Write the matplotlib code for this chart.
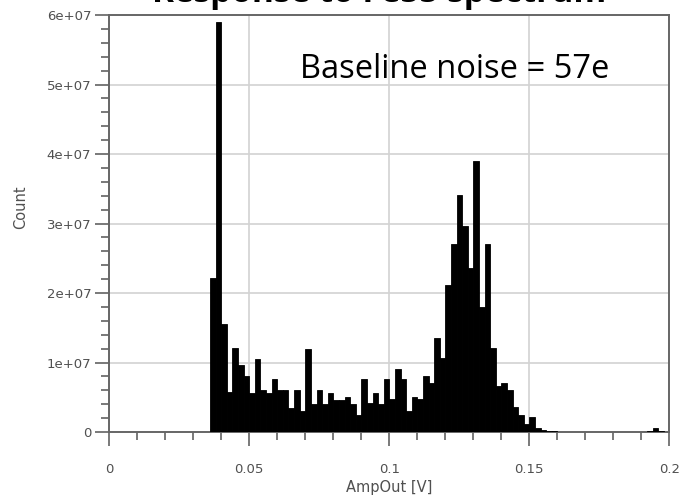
import numpy as np
import matplotlib
matplotlib.use("Agg")
import matplotlib.pyplot as plt
from matplotlib.ticker import MultipleLocator

# histogram bins (left edges in V, width 2 mV) and counts in units of 1e7
bin_width = 0.002
first_edge = 0.036
counts_e7 = [
    2.21, 5.90, 1.56, 0.57, 1.21, 0.96, 0.81, 0.56, 1.05, 0.60,
    0.56, 0.76, 0.61, 0.60, 0.35, 0.60, 0.30, 1.20, 0.41, 0.60,
    0.41, 0.56, 0.46, 0.46, 0.50, 0.40, 0.25, 0.76, 0.42, 0.56,
    0.40, 0.76, 0.48, 0.91, 0.76, 0.31, 0.51, 0.47, 0.80, 0.70,
    1.35, 1.06, 2.11, 2.70, 3.41, 2.96, 2.36, 3.90, 1.80, 2.70,
    1.21, 0.67, 0.70, 0.60, 0.36, 0.24, 0.12, 0.21, 0.06, 0.03,
    0.015, 0.01,
]
# small bump near 0.2 V
bump_edges = [0.192, 0.194, 0.196]
bump_e7 = [0.02, 0.06, 0.02]

edges = [first_edge + i * bin_width for i in range(len(counts_e7))] + bump_edges
counts = np.array(counts_e7 + bump_e7) * 1e7

x_ticks = [0, 0.05, 0.1, 0.15, 0.2]
x_labels = ["0", "0.05", "0.1", "0.15", "0.2"]
y_ticks = [0, 1e7, 2e7, 3e7, 4e7, 5e7, 6e7]
y_labels = ["0", "1e+07", "2e+07", "3e+07", "4e+07", "5e+07", "6e+07"]

fig = plt.figure(figsize=(6.83, 5.03), dpi=100)
ax = fig.add_axes([0.16, 0.141, 0.82, 0.829])

ax.bar(edges, counts, width=bin_width, align="edge", color="black",
       edgecolor="black", linewidth=0.6, zorder=3)

ax.set_xlim(0, 0.2)
ax.set_ylim(0, 6e7)
ax.set_xticks(x_ticks)
ax.set_xticklabels(x_labels)
ax.set_yticks(y_ticks)
ax.set_yticklabels(y_labels)
ax.xaxis.set_minor_locator(MultipleLocator(0.01))
ax.yaxis.set_minor_locator(MultipleLocator(2e6))

tick_col = "#555555"
ax.tick_params(which="major", direction="out", length=10, width=1.1,
               color=tick_col, labelcolor="#505050", pad=3)
ax.tick_params(which="minor", direction="out", length=5.5, width=1.1,
               color=tick_col)
for lab in ax.get_xticklabels() + ax.get_yticklabels():
    lab.set_family("DejaVu Sans")
    lab.set_fontsize(9.5)
ax.tick_params(axis="x", pad=12)

ax.grid(True, which="major", color="#d2d2d2", linewidth=1.2, zorder=0)
ax.set_axisbelow(True)
for side in ax.spines.values():
    side.set_color("#666666")
    side.set_linewidth(1.4)

ax.set_xlabel("AmpOut [V]", family="DejaVu Sans", fontsize=10.5,
              color="#505050", labelpad=3)
ax.set_ylabel("Count", family="DejaVu Sans", fontsize=10.5,
              color="#505050")
ax.yaxis.set_label_coords(-0.145, 0.54)

ax.text(0.341, 0.848, "Baseline noise = 57e", transform=ax.transAxes,
        family="Open Sans", fontsize=23.5, ha="left", va="baseline", color="black")

fig.text(0.555, 0.997, "Response to Fe55 spectrum", family="Open Sans",
         fontweight="bold", fontsize=24, ha="center", va="baseline")

fig.savefig("out.png", dpi=100)
